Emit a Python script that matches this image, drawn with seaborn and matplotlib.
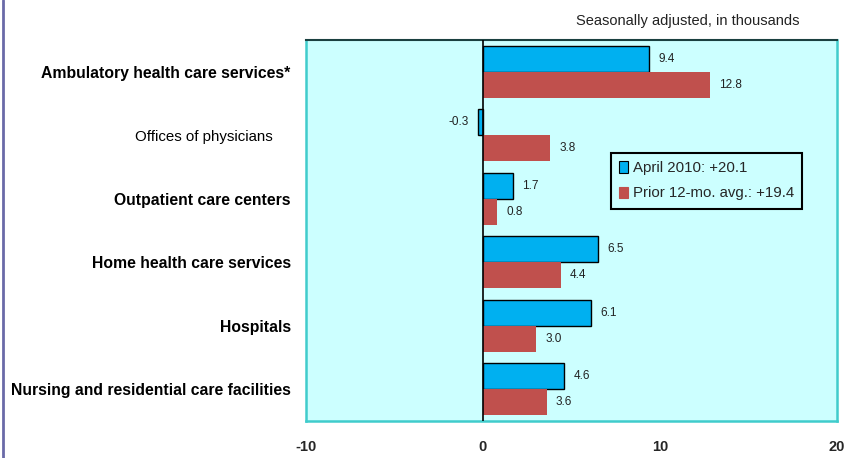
"""
Health care employment change, horizontal grouped bars
"""
from matplotlib import pyplot as plt
from matplotlib.patches import Patch
from matplotlib.lines import Line2D
import matplotlib.transforms as mtrans
import pandas as pd
import seaborn as sns

industries = ['Ambulatory health care services*', 'Offices of physicians',
              'Outpatient care centers', 'Home health care services',
              'Hospitals', 'Nursing and residential care facilities']
bold_rows = [True, False, True, True, True, True]
april_2010 = [9.4, -0.3, 1.7, 6.5, 6.1, 4.6]
prior_avg = [12.8, 3.8, 0.8, 4.4, 3.0, 3.6]
series_names = ['April 2010: +20.1', 'Prior 12-mo. avg.: +19.4']
x_ticks = [-10, 0, 10, 20]

blue = '#00b0f0'
red = '#c0504d'
bg = '#ccffff'
teal = '#40cccc'

df = pd.DataFrame({
    'industry': industries * 2,
    'value': april_2010 + prior_avg,
    'series': [series_names[0]] * len(industries) + [series_names[1]] * len(industries),
})

sns.set_style('white')
plt.rcParams['font.family'] = ['Liberation Sans', 'DejaVu Sans']

fig = plt.figure(figsize=(8.51, 4.58), dpi=100)
ax = fig.add_axes([0.3596, 0.0808, 0.6239, 0.8319])
ax.set_facecolor(bg)

sns.barplot(data=df, y='industry', x='value', hue='series', orient='h',
            palette=[blue, red], width=0.82, errorbar=None, legend=False,
            saturation=1, ax=ax)

# blue bars have a black outline
for bar in ax.containers[0]:
    bar.set_edgecolor('black')
    bar.set_linewidth(1.0)
for bar in ax.containers[1]:
    bar.set_linewidth(0)

for cont in ax.containers:
    ax.bar_label(cont, fmt='%.1f', padding=6.5, fontsize=8.5, color='#222222')

ax.set_xlim(-10, 20)
ax.set_ylim(5.5, -0.5)
ax.set_xticks(x_ticks)
ax.set_xticklabels([str(t) for t in x_ticks], fontsize=10.5, fontweight='bold')
ax.tick_params(axis='x', length=0, pad=14)
ax.tick_params(axis='y', length=0, pad=11)
ax.set_xlabel('')
ax.set_ylabel('')
for lab, b in zip(ax.get_yticklabels(), bold_rows):
    lab.set_fontsize(11.3 if b else 10.8)
    lab.set_fontweight('bold' if b else 'normal')
    lab.set_color('black')
    if not b:
        lab.set_transform(lab.get_transform() +
                          mtrans.ScaledTranslation(-0.18, 0, fig.dpi_scale_trans))

# zero line
ax.axvline(0, color='black', lw=1.2, zorder=3)

for side in ['left', 'right', 'bottom']:
    ax.spines[side].set_color(teal)
    ax.spines[side].set_linewidth(1.8)
ax.spines['top'].set_color('#1a4040')
ax.spines['top'].set_linewidth(1.5)

handles = [Patch(facecolor=blue, edgecolor='black', lw=0.8),
           Patch(facecolor=red, edgecolor=red, lw=0.8)]
leg = fig.legend(handles, series_names, loc='upper left',
                 bbox_to_anchor=(0.718, 0.666), fontsize=10.8,
                 handlelength=0.55, handleheight=0.8, handletextpad=0.35,
                 fancybox=False, framealpha=1, facecolor=bg,
                 edgecolor='black', borderpad=0.55, labelspacing=0.75,
                 borderaxespad=0)
leg.get_frame().set_linewidth(1.5)

fig.text(0.940, 0.955, 'Seasonally adjusted, in thousands', fontsize=10.5,
         ha='right', va='center', color='#222222')

# left page border
fig.add_artist(Line2D([0.003, 0.003], [0, 1], color='#6a6aa8', lw=2,
                      transform=fig.transFigure))

plt.savefig('out.png', dpi=100)
